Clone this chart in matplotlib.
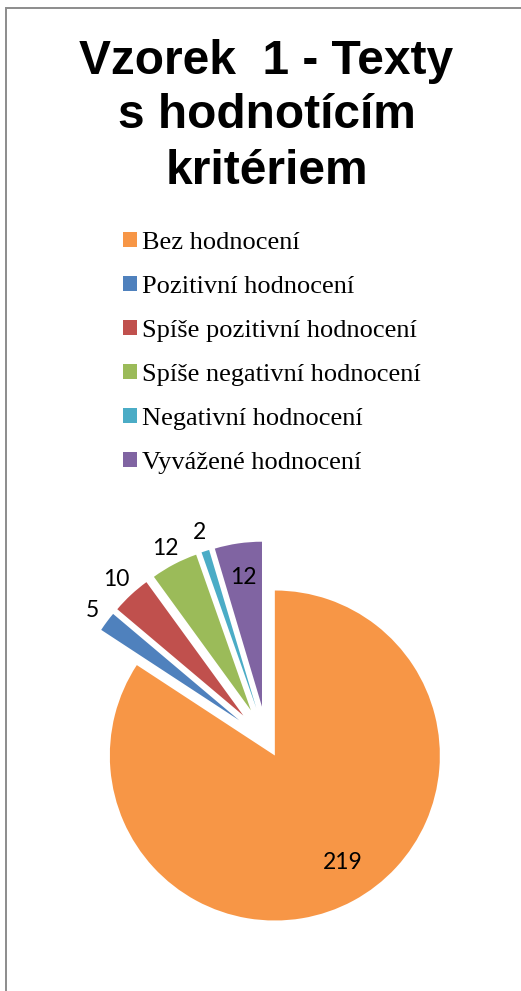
import numpy as np
import matplotlib
matplotlib.use("Agg")
import matplotlib.pyplot as plt
from matplotlib.patches import Rectangle

# data
CATEGORIES = ["Bez hodnocení", "Pozitivní hodnocení", "Spíše pozitivní hodnocení",
              "Spíše negativní hodnocení", "Negativní hodnocení", "Vyvážené hodnocení"]
COUNTS = [219, 5, 10, 12, 2, 12]
COLORS = ["#F79646", "#4F81BD", "#C0504D", "#9BBB59", "#4BACC6", "#8064A2"]
EXPLODE = [0.1, 0.21, 0.21, 0.21, 0.21, 0.21]
LABEL_DIST = [0.77, 1.11, 1.13, 1.11, 1.12, 0.79]
LABEL_TURN = [4, 0, 0, 0, 0, 0]   # degrees, small nudge off the bisector
TITLE_LINES = ["Vzorek  1 - Texty", "s hodnotícím", "kritériem"]

W, H = 521, 991
fig = plt.figure(figsize=(W / 100, H / 100), dpi=100)
fig.patch.set_facecolor("white")

# chart-area border (only top and left edges fall inside the crop)
fig.add_artist(Rectangle((6 / W, -0.05), 1.2, (H - 8) / H + 0.05,
                         transform=fig.transFigure, fill=False,
                         edgecolor="#8c8c8c", linewidth=1.4))

# title, one text per line (baselines in px from top)
for line, base in zip(TITLE_LINES, [74, 128.5, 184]):
    fig.text(266.5 / W, 1 - base / H, line, ha="center", va="baseline",
             fontsize=34.5, fontweight="bold", family="Liberation Sans")

# pie: true centre at (267, 741) px, radius 165 px
R = 165
span = 3.0
side = span * R
ax = fig.add_axes([(267 - side / 2) / W, (H - 741 - side / 2) / H, side / W, side / H])

wedges, _ = ax.pie(COUNTS, colors=COLORS, explode=EXPLODE, startangle=90,
                   counterclock=False, radius=1, frame=True,
                   wedgeprops=dict(linewidth=0))
ax.set_xlim(-span / 2, span / 2)
ax.set_ylim(-span / 2, span / 2)
ax.set_axis_off()

for w, val, d, turn in zip(wedges, COUNTS, LABEL_DIST, LABEL_TURN):
    th = np.deg2rad((w.theta1 + w.theta2) / 2 + turn)
    cx, cy = w.center
    ax.text(cx + d * np.cos(th), cy + d * np.sin(th), str(val),
            ha="center", va="center", fontsize=16.5, family="Lato")

fig.legend(wedges, CATEGORIES, loc="upper left",
           bbox_to_anchor=(112 / W, 1 - 221 / H),
           prop=dict(family="Liberation Serif", size=19),
           frameon=False, handlelength=0.53, handleheight=0.53,
           handletextpad=0.2, labelspacing=0.83, borderaxespad=0)

fig.savefig("out.png", dpi=100)
